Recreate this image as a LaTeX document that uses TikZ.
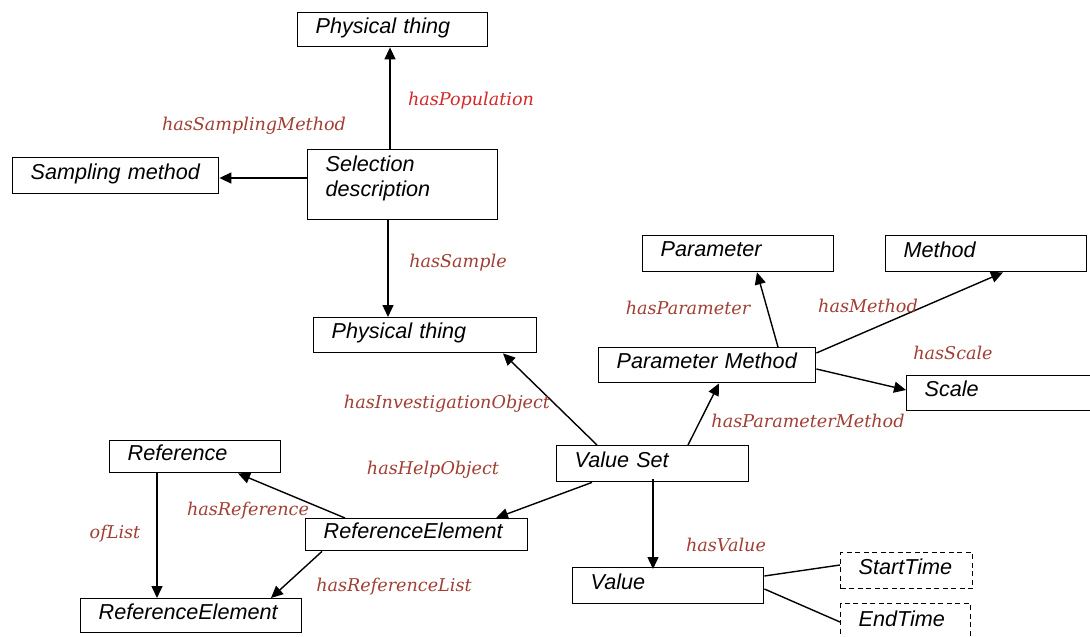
\documentclass[tikz,border=0pt]{standalone}
\usepackage{fontspec}
\setmainfont{Liberation Sans}
\newfontfamily\relfont{DejaVu Serif}
\usetikzlibrary{arrows.meta}
\definecolor{relred}{RGB}{160,62,52}
\definecolor{relbright}{RGB}{212,40,40}
\tikzset{
  box/.style={draw=black, line width=1.4pt, anchor=north west, inner xsep=18pt, inner ysep=0pt,
    align=left, text depth=9pt, font=\fontsize{21.6}{25}\selectfont\itshape},
  dbox/.style={box, dashed, dash pattern=on 5pt off 3.5pt},
  rel/.style={font=\relfont\fontsize{17.6}{20}\selectfont\itshape, text=relred, inner sep=0pt},
  link/.style={line width=1.4pt, -{Triangle[length=12pt,width=11pt]}},
  plain/.style={line width=1.4pt}
}
% box: style, name, north-west corner, width, height, text
\newcommand{\boxat}[6]{%
  \node[#1, minimum width=#4, minimum height=#5, text width=#4-36] (#2) at (#3) {#6};}
\begin{document}
\begin{tikzpicture}[x=1pt,y=-1pt]
\useasboundingbox (0,0) rectangle (1090,637);
\clip (0,0) rectangle (1090,637);
% concept boxes
\boxat{box}{ptop}{297,12}{190}{34}{Physical thing}
\boxat{box}{samp}{12,157}{206}{36}{Sampling method}
\boxat{box, text depth=42pt}{sel}{307,149}{190}{70}{Selection\\description}
\boxat{box}{pmid}{313,317}{223}{35}{Physical thing}
\boxat{box}{param}{642,235}{191}{36}{Parameter}
\boxat{box}{meth}{885,235}{201}{36}{Method}
\boxat{box}{pm}{598,347}{217}{35}{Parameter Method}
\boxat{box}{scale}{906,375}{220}{35}{Scale}
\boxat{box}{vs}{556,445}{192}{36}{Value Set}
\boxat{box}{ref}{109,440}{171}{32}{Reference}
\boxat{box}{re1}{305,518}{222}{32}{ReferenceElement}
\boxat{box}{re2}{80,598}{221}{34}{ReferenceElement}
\boxat{box}{val}{572,567}{191}{36}{Value}
\boxat{dbox}{st}{840,552}{132}{36}{StartTime}
\boxat{dbox}{et}{840,603}{130}{38}{EndTime}
% relations
\draw[link] (sel.north -| 390,0) -- (ptop.south -| 390,0);
\draw[link] (sel.west |- 0,178) -- (samp.east |- 0,178);
\draw[link] (sel.south -| 388,0) -- (pmid.north -| 388,0);
\draw[link] (vs.north -| 597,0) -- (pmid.south -| 503,0);
\draw[link] (vs.north -| 688,0) -- (pm.south -| 719,0);
\draw[link] (pm.north -| 778,0) -- (param.south -| 757,0);
\draw[link] (pm.east |- 0,353) -- (meth.south -| 1003,0);
\draw[link] (pm.east |- 0,369) -- (scale.west |- 0,390);
\draw[link] (vs.south -| 592,0) -- (re1.north -| 496,0);
\draw[link] (re1.north -| 345,0) -- (ref.south -| 238,0);
\draw[link] (ref.south -| 157,0) -- (re2.north -| 157,0);
\draw[link] (re1.south -| 322,0) -- (re2.north -| 271,0);
\draw[link] ([yshift=3pt]vs.south -| 653,0) -- ([yshift=-2pt]val.north -| 653,0);
\draw[plain] (val.east |- 0,576) -- (st.west |- 0,565);
\draw[plain] (val.east |- 0,589) -- (et.west |- 0,622);
% relation names
\node[rel, text=relbright] (lpop) at (471,101) {hasPopulation};
\node[rel] (lsamp) at (254,126) {hasSamplingMethod};
\node[rel] (lsample) at (458,263) {hasSample};
\node[rel] (lparam) at (688,308) {hasParameter};
\node[rel] (lmeth) at (868,306) {hasMethod};
\node[rel] (lscale) at (953,353) {hasScale};
\node[rel] (linv) at (447,404) {hasInvestigationObject};
\node[rel] (lpm) at (808,421) {hasParameterMethod};
\node[rel] (lhelp) at (433,470) {hasHelpObject};
\node[rel] (lref) at (248,511) {hasReference};
\node[rel] (loflist) at (115,534) {ofList};
\node[rel] (lreflist) at (394,587) {hasReferenceList};
\node[rel] (lval) at (726,545) {hasValue};
\end{tikzpicture}
\end{document}
